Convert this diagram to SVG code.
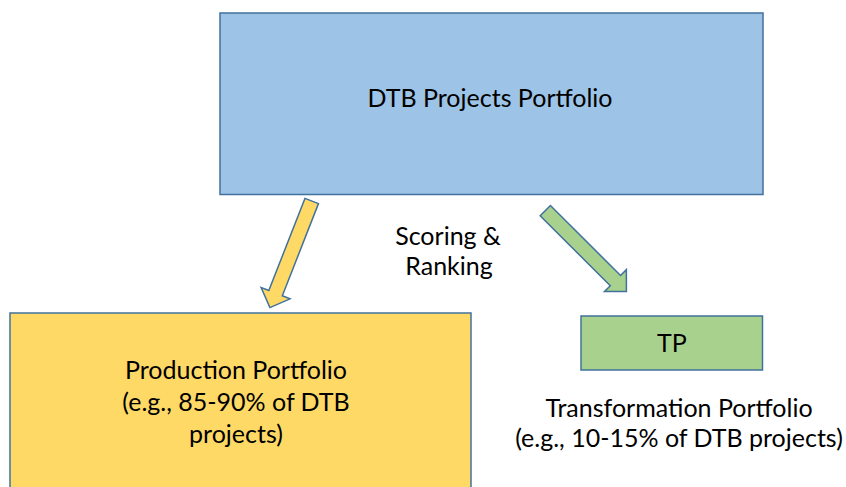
<svg xmlns="http://www.w3.org/2000/svg" width="846" height="487" viewBox="0 0 846 487">
  <style>
    .box { stroke: #41719C; stroke-width: 1.5; }
    .txt { font-family: Lato, "Liberation Sans", Arial, sans-serif; font-size: 25px; fill: #000; text-anchor: middle; }
    .arrow { stroke: #41719C; stroke-width: 1.5; stroke-linejoin: miter; }
  </style>
  <defs>
    <polygon id="arrowShape" points="0,-7.25 99,-7.25 99,-15.5 114.5,0 99,15.5 99,7.25 0,7.25"/>
  </defs>
  <rect width="846" height="487" fill="#ffffff"/>
  <g id="dtb-portfolio">
    <rect class="box" x="220" y="13" width="543" height="181.5" fill="#9DC3E6"/>
    <text class="txt" x="490" y="107">DTB Projects Portfolio</text>
  </g>
  <g id="production-portfolio">
    <rect class="box" x="10" y="313" width="461" height="190" fill="#FFD966"/>
    <text class="txt" x="236" y="379">Production Portfolio</text>
    <text class="txt" x="236" y="411">(e.g., 85-90% of DTB</text>
    <text class="txt" x="236" y="443">projects)</text>
  </g>
  <g id="tp">
    <rect class="box" x="581" y="316" width="181.5" height="54" fill="#A9D18E"/>
    <text class="txt" x="672" y="352">TP</text>
  </g>
  <g id="tp-label">
    <text class="txt" x="679" y="417">Transformation Portfolio</text>
    <text class="txt" x="679" y="447">(e.g., 10-15% of DTB projects)</text>
  </g>
  <g id="scoring-label">
    <text class="txt" x="448" y="244.5">Scoring &amp;</text>
    <text class="txt" x="449" y="274.5">Ranking</text>
  </g>
  <g id="connectors">
    <use href="#arrowShape" class="arrow" fill="#FFD966" transform="translate(311.7,201) rotate(111.4)"/>
    <use href="#arrowShape" class="arrow" fill="#A9D18E" transform="translate(545.3,210.7) rotate(44.9)"/>
  </g>
</svg>
